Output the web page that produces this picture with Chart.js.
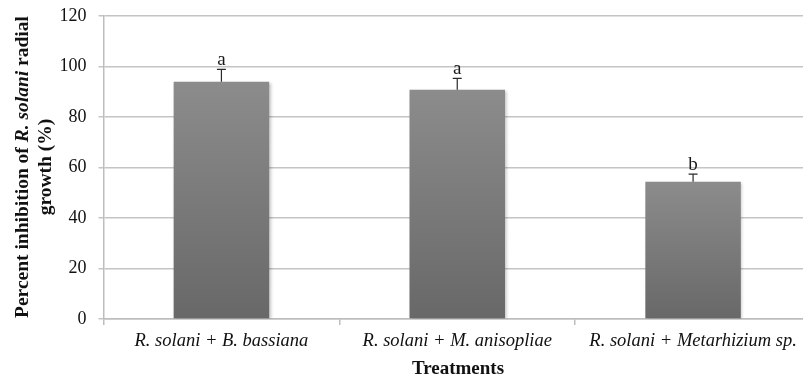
<!DOCTYPE html>
<html>
<head>
<meta charset="utf-8">
<script src="https://cdn.jsdelivr.net/npm/chart.js@4.4.0/dist/chart.umd.min.js"></script>
<style>
  html, body { margin: 0; padding: 0; background: #fff; overflow: hidden; }
  #wrap { width: 803px; height: 379px; overflow: hidden; }
  canvas { display: block; }
</style>
</head>
<body>
<div id="wrap"><canvas id="c" width="812" height="379"></canvas></div>
<script>
// Treatments and mean percent inhibition of R. solani radial growth
const treatments = [
  'R. solani + B. bassiana',
  'R. solani + M. anisopliae',
  'R. solani + Metarhizium sp.'
];
const inhibition = [94.0, 90.8, 54.4];
const stdErrors = [4.9, 4.5, 3.0];
const groupLetters = ['a', 'a', 'b'];
const yTicks = [0, 20, 40, 60, 80, 100, 120];

const SERIF = '"Liberation Serif", "Times New Roman", serif';

// Upper error whiskers with caps, and significance letters above them
const errorBarPlugin = {
  id: 'errorBars',
  afterDatasetsDraw(chart) {
    const ctx = chart.ctx;
    const y = chart.scales.y;
    const meta = chart.getDatasetMeta(0);
    ctx.save();
    meta.data.forEach((bar, i) => {
      const top = y.getPixelForValue(inhibition[i] + stdErrors[i]);
      const base = y.getPixelForValue(inhibition[i]);
      ctx.strokeStyle = '#2a2a2a';
      ctx.lineWidth = 1.2;
      ctx.beginPath();
      ctx.moveTo(bar.x, base);
      ctx.lineTo(bar.x, top);
      ctx.moveTo(bar.x - 4.5, top);
      ctx.lineTo(bar.x + 4.5, top);
      ctx.stroke();
      ctx.fillStyle = '#1a1a1a';
      ctx.font = '19px ' + SERIF;
      ctx.textAlign = 'center';
      ctx.textBaseline = 'alphabetic';
      ctx.fillText(groupLetters[i], bar.x, top - 4.5);
    });
    ctx.restore();
  }
};

// Axis titles; the y title mixes bold and bold-italic runs
const axisTitlePlugin = {
  id: 'axisTitles',
  afterDraw(chart) {
    const ctx = chart.ctx;
    ctx.save();
    ctx.fillStyle = '#111';
    ctx.textBaseline = 'middle';

    // x title
    ctx.font = 'bold 19px ' + SERIF;
    ctx.textAlign = 'center';
    ctx.fillText('Treatments', 458, 369);

    // y title, rotated
    const size = 19.5;
    const lines = [
      [['Percent inhibition of ', 'bold'], ['R. solani', 'italic bold'], [' radial', 'bold']],
      [['growth (%)', 'bold']]
    ];
    const xs = [23, 46];
    const cy = 167;
    lines.forEach((runs, li) => {
      let total = 0;
      runs.forEach(([t, f]) => { ctx.font = f + ' ' + size + 'px ' + SERIF; total += ctx.measureText(t).width; });
      ctx.save();
      ctx.translate(xs[li], cy);
      ctx.rotate(-Math.PI / 2);
      let x = -total / 2;
      ctx.textAlign = 'left';
      runs.forEach(([t, f]) => {
        ctx.font = f + ' ' + size + 'px ' + SERIF;
        ctx.fillText(t, x, 0);
        x += ctx.measureText(t).width;
      });
      ctx.restore();
    });
    ctx.restore();
  }
};

// Soft shadow behind the bars
const barShadowPlugin = {
  id: 'barShadow',
  beforeDatasetsDraw(chart) {
    const ctx = chart.ctx;
    ctx.save();
    ctx.shadowColor = 'rgba(0,0,0,0.25)';
    ctx.shadowBlur = 3;
    ctx.shadowOffsetX = 1.5;
    ctx.shadowOffsetY = 1;
  },
  afterDatasetsDraw(chart) {
    chart.ctx.restore();
  }
};

function barGradient(context) {
  const chart = context.chart;
  const y = chart.scales.y;
  if (!y || context.dataIndex === undefined) return '#7a7a7a';
  const v = inhibition[context.dataIndex];
  const top = y.getPixelForValue(v);
  const bottom = y.getPixelForValue(0);
  if (!isFinite(top) || !isFinite(bottom)) return '#7a7a7a';
  const g = chart.ctx.createLinearGradient(0, top, 0, bottom);
  g.addColorStop(0, '#8c8c8c');
  g.addColorStop(1, '#686868');
  return g;
}

new Chart(document.getElementById('c'), {
  type: 'bar',
  data: {
    labels: treatments,
    datasets: [{
      data: inhibition,
      backgroundColor: barGradient,
      borderWidth: 0,
      categoryPercentage: 1.0,
      barPercentage: 0.405
    }]
  },
  options: {
    responsive: false,
    animation: false,
    layout: { padding: { top: 16, right: 1, left: 0, bottom: 0 } },
    plugins: {
      legend: { display: false },
      tooltip: { enabled: false }
    },
    scales: {
      x: {
        grid: {
          display: true,
          drawOnChartArea: false,
          drawTicks: true,
          tickLength: 6,
          color: '#bdbdbd',
          lineWidth: 1.5,
          offset: true
        },
        border: { display: true, color: '#bdbdbd', width: 1.5 },
        ticks: {
          color: '#111',
          font: { family: SERIF, size: 18.5, style: 'italic' },
          padding: 5,
          maxRotation: 0,
          autoSkip: false
        },
        afterFit(scale) {
          scale.height = 60;
          scale.paddingLeft = 0;
          scale.paddingRight = 0;
        }
      },
      y: {
        min: 0,
        max: 120,
        afterBuildTicks(scale) { scale.ticks = yTicks.map(v => ({ value: v })); },
        grid: {
          color: '#c4c4c4',
          lineWidth: 1.5,
          drawTicks: true,
          tickLength: 5
        },
        border: { display: true, color: '#bdbdbd', width: 1.5 },
        ticks: {
          color: '#111',
          font: { family: SERIF, size: 18 },
          padding: 12
        },
        afterFit(scale) {
          scale.width = 103.5;
          scale.paddingTop = 0;
          scale.paddingBottom = 0;
        }
      }
    }
  },
  plugins: [barShadowPlugin, errorBarPlugin, axisTitlePlugin]
});
</script>
</body>
</html>
